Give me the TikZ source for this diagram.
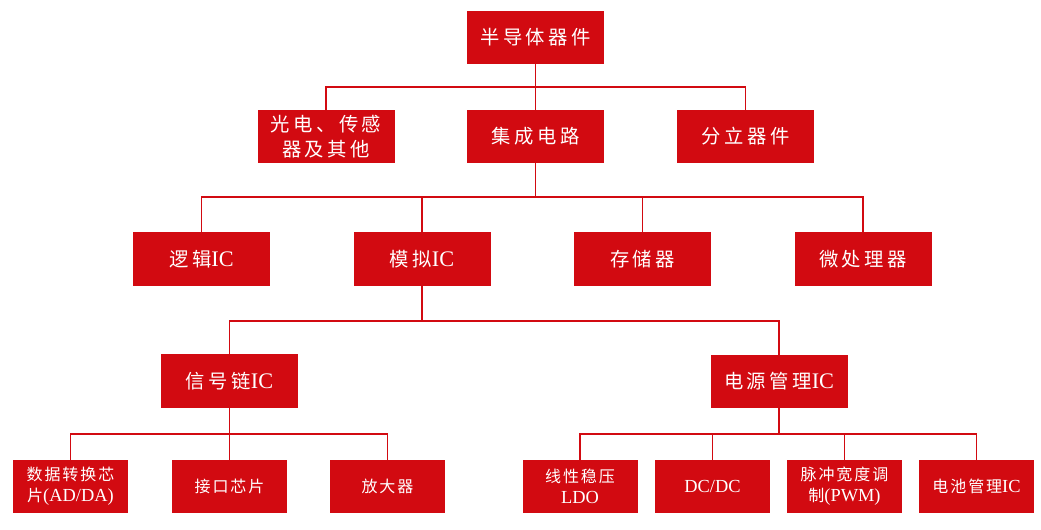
\documentclass[tikz,border=0pt]{standalone}
\usepackage{fontspec}
\setmainfont{Noto Sans CJK SC}[LetterSpace=12]
\newfontfamily\latinfont{Liberation Serif}[Scale=1.15]
\newcommand\latn[1]{{\latinfont #1}}
\definecolor{boxred}{HTML}{D20A11}
\begin{document}
\begin{tikzpicture}[x=0.75pt,y=-0.75pt,
  box/.style={fill=boxred, text=white, inner sep=0pt, align=center},
  bigbox/.style={box, minimum width=102.75pt, minimum height=40pt, font=\fontsize{14.5}{18.75}\selectfont\addfontfeature{LetterSpace=18}},
  smallbox/.style={box, minimum width=86.25pt, minimum height=39.75pt, font=\fontsize{12}{15.75}\selectfont},
  link/.style={draw=boxred, line width=1pt}]
\useasboundingbox (0,0) rectangle (1041,529);
\node[bigbox] (top) at (535.5,37.5) {半导体器件};
\node[bigbox] (gd) at (326,136.5) {光电、传感\\器及其他};
\node[bigbox] (jc) at (535.5,136.5) {集成电路};
\node[bigbox] (fl) at (745.5,136.5) {分立器件};
\node[bigbox] (lj) at (201.5,259) {逻辑\latn{IC}};
\node[bigbox] (mn) at (422,259) {模拟\latn{IC}};
\node[bigbox] (cc) at (642.5,259) {存储器};
\node[bigbox] (wc) at (863,259) {微处理器};
\node[bigbox] (xh) at (229.5,381) {信号链\latn{IC}};
\node[bigbox] (dy) at (779,381.5) {电源管理\latn{IC}};
\node[smallbox] (sj) at (70.5,486.5) {数据转换芯\\片\latn{(AD/DA)}};
\node[smallbox] (jk) at (229.5,486.5) {接口芯片};
\node[smallbox] (fd) at (387.5,486.5) {放大器};
\node[smallbox] (xx) at (580,486.5) {线性稳压\\\latn{LDO}};
\node[smallbox] (dc) at (712.5,486.5) {\latn{DC/DC}};
\node[smallbox] (mc) at (844.5,486.5) {脉冲宽度调\\制\latn{(PWM)}};
\node[smallbox] (dcg) at (976.5,486.5) {电池管理\latn{IC}};
\coordinate (b1) at (535.5,87);
\coordinate (b2) at (535.5,197);
\coordinate (b3) at (422,321);
\coordinate (b4) at (229.5,434);
\coordinate (b5) at (779,434);
\draw[link] (top.south) -- (jc.north);
\draw[link] (gd.north) |- (b1) -| (fl.north);
\draw[link] (jc.south) -- (b2);
\draw[link] (lj.north) |- (b2) -| (wc.north);
\draw[link] (mn.north) -- (mn.north |- b2);
\draw[link] (cc.north) -- (cc.north |- b2);
\draw[link] (mn.south) -- (b3);
\draw[link] (xh.north) |- (b3) -| (dy.north);
\draw[link] (xh.south) -- (b4);
\draw[link] (sj.north) |- (b4) -| (fd.north);
\draw[link] (jk.north) -- (b4);
\draw[link] (dy.south) -- (b5);
\draw[link] (xx.north) |- (b5) -| (dcg.north);
\draw[link] (dc.north) -- (dc.north |- b5);
\draw[link] (mc.north) -- (mc.north |- b5);
\end{tikzpicture}
\end{document}
